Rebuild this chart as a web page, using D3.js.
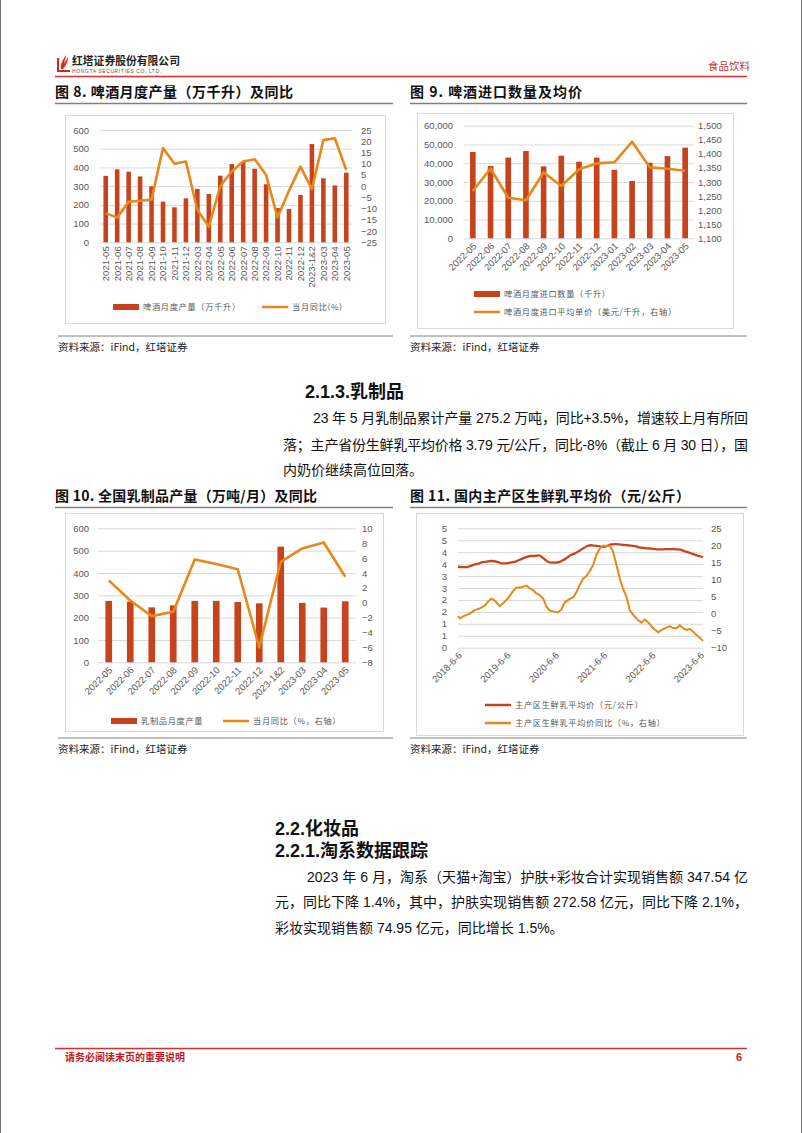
<!DOCTYPE html>
<html><head><meta charset="utf-8">
<script src="https://cdn.jsdelivr.net/npm/d3@7/dist/d3.min.js"></script>
<style>
body{margin:0;background:#fff;}
svg{display:block;}
text{font-family:"Liberation Sans","Noto Sans CJK SC",Arial,sans-serif;}
</style></head><body>
<script>
// ---------- DATA ----------
const beerMonths = ["2021-05","2021-06","2021-07","2021-08","2021-09","2021-10","2021-11","2021-12","2022-03","2022-04","2022-05","2022-06","2022-07","2022-08","2022-09","2022-10","2022-11","2022-12","2023-1&2","2023-03","2023-04","2023-05"];
const beerOutput = [355,390,377,352,299,217,187,235,285,258,356,418,430,393,310,183,178,253,525,342,304,372];
const beerYoY    = [-12,-14,-7,-6.5,-6,17,10,11,-10.6,-18,0,6.5,11,12,5,-14,-2,8.7,-1.3,20.5,21.3,7.2];

const importMonths = ["2022-05","2022-06","2022-07","2022-08","2022-09","2022-10","2022-11","2022-12","2023-01","2023-02","2023-03","2023-04","2023-05"];
const importQty    = [46000,38500,43000,46500,38300,44000,40800,43000,36500,30500,40300,43800,48300];
const importPrice  = [1268,1348,1244,1235,1334,1286,1345,1366,1370,1443,1352,1347,1340];

const dairyMonths = ["2022-05","2022-06","2022-07","2022-08","2022-09","2022-10","2022-11","2022-12","2023-1&2","2023-03","2023-04","2023-05"];
const dairyOutput = [275,272,246,255,275,275,270,264,518,266,245,273];
const dairyYoY    = [3.0,0.3,-1.8,-1.2,5.8,5.2,4.5,-6.0,5.5,7.3,8.1,3.5];

const milkPriceDates = ["2018-06-06","2018-07-06","2018-08-06","2018-09-06","2018-10-06","2018-11-06","2018-12-06","2019-01-06","2019-02-06","2019-03-06","2019-04-06","2019-05-06","2019-06-06","2019-07-06","2019-08-06","2019-09-06","2019-10-06","2019-11-06","2019-12-06","2020-01-06","2020-02-06","2020-03-06","2020-04-06","2020-05-06","2020-06-06","2020-07-06","2020-08-06","2020-09-06","2020-10-06","2020-11-06","2020-12-06","2021-01-06","2021-02-06","2021-03-06","2021-04-06","2021-05-06","2021-06-06","2021-07-06","2021-08-06","2021-09-06","2021-10-06","2021-11-06","2021-12-06","2022-01-06","2022-02-06","2022-03-06","2022-04-06","2022-05-06","2022-06-06","2022-07-06","2022-08-06","2022-09-06","2022-10-06","2022-11-06","2022-12-06","2023-01-06","2023-02-06","2023-03-06","2023-04-06","2023-05-06","2023-06-06","2023-06-30"];
const milkPrice = [3.39,3.37,3.37,3.42,3.48,3.52,3.58,3.60,3.63,3.62,3.58,3.53,3.53,3.56,3.59,3.66,3.73,3.80,3.84,3.84,3.87,3.77,3.63,3.56,3.56,3.58,3.66,3.77,3.88,3.95,4.05,4.16,4.26,4.29,4.27,4.25,4.22,4.26,4.33,4.34,4.33,4.30,4.29,4.27,4.25,4.20,4.18,4.16,4.15,4.13,4.12,4.12,4.13,4.13,4.12,4.11,4.05,4.00,3.94,3.88,3.83,3.79];

const milkYoYDates = ["2018-06-06","2018-06-19","2018-07-26","2018-09-02","2018-10-10","2018-11-17","2018-12-25","2019-01-19","2019-02-08","2019-02-25","2019-03-23","2019-04-17","2019-05-12","2019-06-19","2019-07-27","2019-08-21","2019-09-28","2019-11-04","2019-11-30","2019-12-25","2020-01-19","2020-02-13","2020-03-09","2020-04-04","2020-04-29","2020-06-05","2020-07-01","2020-07-26","2020-08-20","2020-09-27","2020-10-22","2020-11-16","2020-12-11","2021-01-06","2021-01-31","2021-02-25","2021-03-22","2021-04-16","2021-05-12","2021-06-06","2021-07-01","2021-07-26","2021-08-20","2021-09-15","2021-10-10","2021-11-04","2021-11-29","2021-12-24","2022-01-19","2022-02-25","2022-03-22","2022-04-17","2022-05-12","2022-06-19","2022-07-26","2022-08-21","2022-09-27","2022-10-23","2022-11-17","2022-12-12","2023-01-06","2023-01-31","2023-02-26","2023-03-23","2023-04-17","2023-05-12","2023-06-06","2023-06-30"];
const milkYoY = [-0.7,-1.4,-0.6,0,1.0,1.5,2.3,3.5,4.3,4.2,3.3,2.2,3.0,4.5,6.6,7.6,7.7,8.2,7.4,6.9,5.9,5.4,4.5,2.0,0.9,0.5,0.4,1.2,3.3,4.3,4.8,6.2,8.4,10.3,11.0,12.5,14.2,17.2,19.1,19.9,19.9,19.9,18.2,14.2,10.3,7.2,5.0,1.0,-0.4,-1.9,-2.7,-1.7,-2.6,-4.3,-5.5,-4.8,-4.1,-3.7,-4.3,-4.3,-3.4,-4.3,-4.8,-4.5,-5.3,-6.3,-7.1,-8.0];
const milkTickDates = ["2018-06-06","2019-06-06","2020-06-06","2021-06-06","2022-06-06","2023-06-06"];

// ---------- STYLE ----------
const BAR = "#C7431D", ORANGE = "#E8871A", REDLINE = "#C8441E", AXIS = "#595959", GRID = "#d9d9d9";
const CJK = '"Noto Sans CJK SC","Liberation Sans",sans-serif';

const svg = d3.select("body").append("svg").attr("width",802).attr("height",1133);
svg.append("rect").attr("width",802).attr("height",1133).attr("fill","#fff");
svg.append("line").attr("x1",0.5).attr("x2",0.5).attr("y1",0).attr("y2",1133).attr("stroke","#777");
svg.append("line").attr("x1",801.5).attr("x2",801.5).attr("y1",0).attr("y2",1133).attr("stroke","#777");

// ---------- HEADER ----------
const hdr = svg.append("g");
hdr.append("path").attr("d","M57,72 L57,58 L59,58 L59,70 L70,70 L70,72 Z").attr("fill","#D42A26");
hdr.append("path").attr("d","M61,69 C60,64 63,60 66,55 C66,59 64,61 64,64 C65,61 67,59 68,57 C68,62 66,65 63,69 Z").attr("fill","#D42A26");
hdr.append("text").attr("x",72).attr("y",65).style("font-family",CJK).style("font-weight","bold").style("font-size","10.8px").attr("fill","#222").text("红塔证券股份有限公司");
hdr.append("text").attr("x",72).attr("y",73).style("font-size","5px").attr("fill","#555").attr("letter-spacing","0.6").text("HONGTA SECURITIES  CO.,LTD.");
hdr.append("text").attr("x",750).attr("y",70).attr("text-anchor","end").style("font-family",CJK).style("font-size","10.5px").attr("fill","#C0392B").text("食品饮料");
hdr.append("line").attr("x1",55).attr("x2",747).attr("y1",76.5).attr("y2",76.5).attr("stroke","#D9302C").attr("stroke-width",1.5);

// ---------- FIGURE TITLES / SOURCES ----------
function figTitle(x, y, txt, len, lineX1, lineX2){
  svg.append("text").attr("x",x).attr("y",y).style("font-family",CJK).style("font-weight","bold").style("font-size","14px").attr("fill","#111")
     .attr("textLength",len).attr("lengthAdjust","spacing").text(txt);
  svg.append("line").attr("x1",lineX1).attr("x2",lineX2).attr("y1",y+6.5).attr("y2",y+6.5).attr("stroke","#808080").attr("stroke-width",1.5);
}
function source(x, y, x2){
  svg.append("line").attr("x1",x).attr("x2",x2).attr("y1",y).attr("y2",y).attr("stroke","#808080").attr("stroke-width",1);
  svg.append("text").attr("x",x).attr("y",y+15).style("font-family",CJK).style("font-size","10.5px").attr("fill","#222").text("资料来源：iFind，红塔证券");
}
figTitle(55,97,"图 8. 啤酒月度产量（万千升）及同比",238,55,393);
figTitle(410,97,"图 9. 啤酒进口数量及均价",172,410,747);
figTitle(55,501,"图 10. 全国乳制品产量（万吨/月）及同比",262,55,393);
figTitle(410,501,"图 11. 国内主产区生鲜乳平均价（元/公斤）",280,410,747);
source(58,336,393); source(410,336,747);
source(58,738,393); source(410,738,747);

// ---------- COMBO CHART ----------
function styleAxisText(sel, size){
  sel.attr("font-family",null).attr("font-size",null);
  sel.selectAll("text").attr("fill",AXIS).style("font-size",size+"px").style("font-family",'"Liberation Sans",Arial,sans-serif');
}
function legendItem(g, type, x, y, label){
  if(type==="bar") g.append("rect").attr("x",x).attr("y",y-3).attr("width",26).attr("height",6).attr("fill",BAR);
  else g.append("line").attr("x1",x).attr("x2",x+26).attr("y1",y).attr("y2",y).attr("stroke",type).attr("stroke-width",2.5);
  g.append("text").attr("x",x+30).attr("y",y+3).style("font-family",CJK).style("font-size","8.2px").attr("letter-spacing","0.7").attr("fill",AXIS).text(label);
}
function combo(c){
  const g = svg.append("g");
  g.append("rect").attr("x",c.box[0]+0.5).attr("y",c.box[1]+0.5).attr("width",c.box[2]).attr("height",c.box[3]).attr("fill","#fff").attr("stroke",GRID);
  const x = d3.scaleBand().domain(c.cats).range([c.px0,c.px1]).paddingInner(c.pad).paddingOuter(c.pad/2);
  const yL = d3.scaleLinear().domain(c.yL).range([c.py1,c.py0]);
  const yR = d3.scaleLinear().domain(c.yR).range([c.py1,c.py0]);
  const lt = d3.range(c.yL[0], c.yL[1]+c.yLStep/2, c.yLStep);
  const rt = d3.range(c.yR[0], c.yR[1]+c.yRStep/2, c.yRStep);
  g.append("g").attr("transform",`translate(${c.px0},0)`)
    .call(d3.axisLeft(yL).tickValues(lt).tickSize(-(c.px1-c.px0)).tickFormat(""))
    .call(s=>s.select(".domain").remove())
    .call(s=>s.selectAll("line").attr("stroke",GRID));
  g.append("g").attr("transform",`translate(${c.lx},0)`)
    .call(d3.axisLeft(yL).tickValues(lt).tickSize(0).tickPadding(0).tickFormat(c.fmtL))
    .call(s=>s.select(".domain").remove())
    .call(s=>styleAxisText(s,9.5));
  g.append("g").attr("transform",`translate(${c.rx},0)`)
    .call(d3.axisRight(yR).tickValues(rt).tickSize(0).tickPadding(0).tickFormat(c.fmtR))
    .call(s=>s.select(".domain").remove())
    .call(s=>styleAxisText(s,9.5));
  g.append("g").selectAll("rect").data(c.bars).join("rect")
    .attr("x",(d,i)=>x(c.cats[i])).attr("y",d=>yL(d)).attr("width",x.bandwidth()).attr("height",d=>yL(0)-yL(d)).attr("fill",BAR);
  const line = d3.line().x((d,i)=>x(c.cats[i])+x.bandwidth()/2).y(d=>yR(d));
  g.append("path").datum(c.line).attr("d",line).attr("fill","none").attr("stroke",ORANGE).attr("stroke-width",2.6).attr("stroke-linejoin","round");
  const xa = g.append("g").attr("transform",`translate(0,${c.py1})`)
    .call(d3.axisBottom(x).tickSize(0).tickPadding(0))
    .call(s=>s.select(".domain").remove())
    .call(s=>styleAxisText(s,9.5));
  xa.selectAll("text").attr("y",0).attr("x",0).attr("dy","0.35em").attr("text-anchor","end")
    .attr("transform", c.rot===90 ? "translate(0,4) rotate(-90)" : "translate(2,6) rotate(-45)");
  c.legend.forEach(l=>legendItem(g,l[0],l[1],l[2],l[3]));
}

combo({box:[65,115,320,208], cats:beerMonths, bars:beerOutput, line:beerYoY,
  px0:100, px1:352, py0:130, py1:242.3, pad:0.6,
  yL:[0,600], yLStep:100, yR:[-25,25], yRStep:5, fmtL:d3.format("d"), fmtR:d3.format("d"),
  lx:89, rx:361, rot:90,
  legend:[["bar",113,307,"啤酒月度产量（万千升）"],[ORANGE,262,307,"当月同比(%)"]]});

combo({box:[417,113,316,215], cats:importMonths, bars:importQty, line:importPrice,
  px0:464, px1:694, py0:125.7, py1:238.3, pad:0.68,
  yL:[0,60000], yLStep:10000, yR:[1100,1500], yRStep:50, fmtL:d3.format(","), fmtR:d3.format(","),
  lx:453, rx:698, rot:45,
  legend:[["bar",474,294,"啤酒月度进口数量（千升）"],[ORANGE,474,312,"啤酒月度进口平均单价（美元/千升，右轴）"]]});

combo({box:[65,513,318,218], cats:dairyMonths, bars:dairyOutput, line:dairyYoY,
  px0:98, px1:356, py0:528.3, py1:662.3, pad:0.69,
  yL:[0,600], yLStep:100, yR:[-8,10], yRStep:2, fmtL:d3.format("d"), fmtR:d3.format("d"),
  lx:89, rx:362, rot:45,
  legend:[["bar",111,721,"乳制品月度产量"],[ORANGE,223,721,"当月同比（%，右轴）"]]});

// ---------- CHART 11: time series ----------
(function(){
  const parse = d3.timeParse("%Y-%m-%d");
  const g = svg.append("g");
  g.append("rect").attr("x",416.5).attr("y",513.5).attr("width",327).attr("height",222).attr("fill","#fff").attr("stroke",GRID);
  const x = d3.scaleTime().domain([parse("2018-06-06"), parse("2023-06-30")]).range([458,703]);
  const yL = d3.scaleLinear().domain([0,5]).range([647.7,528.3]);
  const yR = d3.scaleLinear().domain([-10,25]).range([647.7,528.3]);
  const lt = d3.range(0,5.01,0.5), rt = d3.range(-10,26,5);
  g.append("g").attr("transform","translate(458,0)")
    .call(d3.axisLeft(yL).tickValues(lt).tickSize(-245).tickFormat(""))
    .call(s=>s.select(".domain").remove()).call(s=>s.selectAll("line").attr("stroke",GRID));
  g.append("g").attr("transform","translate(447,0)")
    .call(d3.axisLeft(yL).tickValues(lt).tickSize(0).tickPadding(0).tickFormat(d=>Math.round(d)))
    .call(s=>s.select(".domain").remove()).call(s=>styleAxisText(s,9.5));
  g.append("g").attr("transform","translate(711,0)")
    .call(d3.axisRight(yR).tickValues(rt).tickSize(0).tickPadding(0).tickFormat(d3.format("d")))
    .call(s=>s.select(".domain").remove()).call(s=>styleAxisText(s,9.5));
  const xa = g.append("g").attr("transform","translate(0,647.7)")
    .call(d3.axisBottom(x).tickValues(milkTickDates.map(parse)).tickSize(0).tickPadding(0).tickFormat(d3.timeFormat("%Y-%-m-%-d")))
    .call(s=>s.select(".domain").remove()).call(s=>styleAxisText(s,9.5));
  xa.selectAll("text").attr("y",0).attr("x",0).attr("dy","0.35em").attr("text-anchor","end").attr("transform","translate(2,6) rotate(-45)");
  const lp = d3.line().x((d,i)=>x(parse(milkPriceDates[i]))).y(d=>yL(d)).curve(d3.curveMonotoneX);
  g.append("path").datum(milkPrice).attr("d",lp).attr("fill","none").attr("stroke",REDLINE).attr("stroke-width",2.3);
  const ly = d3.line().x((d,i)=>x(parse(milkYoYDates[i]))).y(d=>yR(d));
  g.append("path").datum(milkYoY).attr("d",ly).attr("fill","none").attr("stroke",ORANGE).attr("stroke-width",2).attr("stroke-linejoin","round");
  legendItem(g, REDLINE, 485, 705, "主产区生鲜乳平均价（元/公斤）");
  legendItem(g, ORANGE, 485, 723, "主产区生鲜乳平均价同比（%，右轴）");
})();

// ---------- BODY TEXT ----------
function heading(x,y,txt){ svg.append("text").attr("x",x).attr("y",y).style("font-weight","bold").style("font-size","18px").attr("fill","#111").text(txt); }
function para(x,y,txt,len){
  const t = svg.append("text").attr("x",x).attr("y",y).style("font-size","14px").attr("fill","#111").text(txt);
  if(len) t.attr("textLength",len).attr("lengthAdjust","spacing");
}
heading(305,398,"2.1.3.乳制品");
para(313,423,"23 年 5 月乳制品累计产量 275.2 万吨，同比+3.5%，增速较上月有所回",435);
para(283,450,"落；主产省份生鲜乳平均价格 3.79 元/公斤，同比-8%（截止 6 月 30 日），国",465);
para(283,475,"内奶价继续高位回落。");
heading(275,835,"2.2.化妆品");
heading(275,857,"2.2.1.淘系数据跟踪");
para(307,882,"2023 年 6 月，淘系（天猫+淘宝）护肤+彩妆合计实现销售额 347.54 亿",441);
para(275,907,"元，同比下降 1.4%，其中，护肤实现销售额 272.58 亿元，同比下降 2.1%，",473);
para(275,933,"彩妆实现销售额 74.95 亿元，同比增长 1.5%。");

// ---------- FOOTER ----------
svg.append("line").attr("x1",55).attr("x2",747).attr("y1",1048.5).attr("y2",1048.5).attr("stroke","#D9302C").attr("stroke-width",1.5);
svg.append("text").attr("x",65).attr("y",1061).style("font-family",CJK).style("font-weight","bold").style("font-size","10px").attr("fill","#C0191E").text("请务必阅读末页的重要说明");
svg.append("text").attr("x",742).attr("y",1061).attr("text-anchor","end").style("font-weight","bold").style("font-size","11px").attr("fill","#C0191E").text("6");
</script>
</body></html>
